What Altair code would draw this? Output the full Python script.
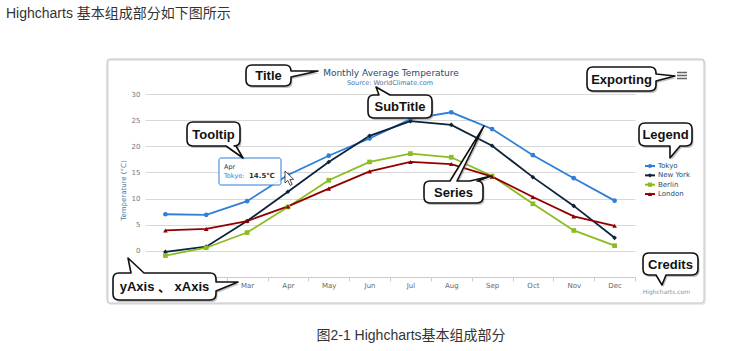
import altair as alt
import pandas as pd

# ---------------- data ----------------
months = ["Jan", "Feb", "Mar", "Apr", "May", "Jun", "Jul", "Aug", "Sep", "Oct", "Nov", "Dec"]
hidden_months = ["Jan", "Feb"]  # covered by the "yAxis 、 xAxis" callout in the reference
cities = ["Tokyo", "New York", "Berlin", "London"]
tokyo = [7.0, 6.9, 9.5, 14.5, 18.2, 21.5, 25.2, 26.5, 23.3, 18.3, 13.9, 9.6]
new_york = [-0.2, 0.8, 5.7, 11.3, 17.0, 22.0, 24.8, 24.1, 20.1, 14.1, 8.6, 2.5]
berlin = [-0.9, 0.6, 3.5, 8.4, 13.5, 17.0, 18.6, 17.9, 14.3, 9.0, 3.9, 1.0]
london = [3.9, 4.2, 5.7, 8.5, 11.9, 15.2, 17.0, 16.6, 14.2, 10.3, 6.6, 4.8]
y_ticks = [0, 5, 10, 15, 20, 25, 30]

colors = ["#2f7ed8", "#0d233a", "#8bbc21", "#910000"]
shapes = ["circle", "diamond", "square", "triangle-up"]

# ---------------- layout ----------------
W, H = 733, 351
PL, PT, PW, PH = 145, 94, 490, 183


def vx(X):
    return X - PL


def vy(Y):
    return Y - PT


def one():
    return alt.Data(values=[{}])


rows = []
for city, vals in zip(cities, [tokyo, new_york, berlin, london]):
    for i, (m, v) in enumerate(zip(months, vals)):
        rows.append({"city": city, "month": m, "idx": i, "temp": v})
df = pd.DataFrame(rows)

hidden_js = "[" + ",".join("'%s'" % m for m in hidden_months) + "]"
x_enc = alt.X(
    "month:N",
    scale=alt.Scale(type="band", domain=months, paddingInner=0, paddingOuter=0),
    bandPosition=0.5,
    axis=alt.Axis(
        title=None, labelAngle=0, labelFont="DejaVu Sans", labelFontSize=7,
        labelColor="#666666", labelPadding=0, domainColor="#C0D0E0", domainWidth=1,
        ticks=True, tickBand="extent", tickColor="#C0D0E0", tickSize=4,
        grid=False, zindex=0,
        labelExpr="indexof(%s, datum.value) >= 0 ? '' : datum.label" % hidden_js,
    ),
)
y_enc = alt.Y(
    "temp:Q",
    scale=alt.Scale(domain=[-5, 30], nice=False, zero=False),
    axis=alt.Axis(
        values=y_ticks, title="Temperature (°C)", titleColor="#4d759e",
        titleFont="DejaVu Sans", titleFontSize=7, titleFontWeight="normal",
        titleX=-22, titleY=96, titleAngle=270, titleBaseline="middle",
        titleAlign="center", labelFont="DejaVu Sans", labelFontSize=7,
        labelColor="#777777", labelPadding=5, domain=False, ticks=False,
        grid=True, gridColor="#D8D8D8", gridWidth=1, zindex=0,
    ),
)
color_enc = alt.Color("city:N", scale=alt.Scale(domain=cities, range=colors), legend=None)
shape_enc = alt.Shape("city:N", scale=alt.Scale(domain=cities, range=shapes), legend=None)

base = alt.Chart(df)
lines = base.mark_line(strokeWidth=1.8).encode(
    x=x_enc, y=y_enc, color=color_enc, order=alt.Order("idx:Q"))
points = base.mark_point(filled=True, size=22, opacity=1).encode(
    x=x_enc, y=y_enc, color=color_enc, shape=shape_enc)


# ---------------- helpers ----------------
def f(n):
    return ("%.2f" % n).rstrip("0").rstrip(".")


def callout_path(x0, y0, x1, y1, tails=None, r=5):
    tails = tails or {}
    p = ["M %s %s" % (f(x0 + r), f(y0))]
    for b0, b1, tx, ty in sorted(tails.get("top", [])):
        p += ["L %s %s" % (f(b0), f(y0)), "L %s %s" % (f(tx), f(ty)), "L %s %s" % (f(b1), f(y0))]
    p.append("L %s %s" % (f(x1 - r), f(y0)))
    p.append("Q %s %s %s %s" % (f(x1), f(y0), f(x1), f(y0 + r)))
    for b0, b1, tx, ty in sorted(tails.get("right", [])):
        p += ["L %s %s" % (f(x1), f(b0)), "L %s %s" % (f(tx), f(ty)), "L %s %s" % (f(x1), f(b1))]
    p.append("L %s %s" % (f(x1), f(y1 - r)))
    p.append("Q %s %s %s %s" % (f(x1), f(y1), f(x1 - r), f(y1)))
    for b0, b1, tx, ty in sorted(tails.get("bottom", []), reverse=True):
        p += ["L %s %s" % (f(b1), f(y1)), "L %s %s" % (f(tx), f(ty)), "L %s %s" % (f(b0), f(y1))]
    p.append("L %s %s" % (f(x0 + r), f(y1)))
    p.append("Q %s %s %s %s" % (f(x0), f(y1), f(x0), f(y1 - r)))
    for b0, b1, tx, ty in sorted(tails.get("left", []), reverse=True):
        p += ["L %s %s" % (f(x0), f(b1)), "L %s %s" % (f(tx), f(ty)), "L %s %s" % (f(x0), f(b0))]
    p.append("L %s %s" % (f(x0), f(y0 + r)))
    p.append("Q %s %s %s %s Z" % (f(x0), f(y0), f(x0 + r), f(y0)))
    return " ".join(p)


def shape_layer(path, dx=0, dy=0, **mark):
    params = dict(size=4, opacity=1)
    params.update(mark)
    return alt.Chart(one()).mark_point(shape=path, **params).encode(
        x=alt.value(vx(0) + dx), y=alt.value(vy(0) + dy))


def text_layer(text, X, Y, size, color, font="DejaVu Sans", weight="normal",
               align="center", baseline="middle"):
    return alt.Chart(one()).mark_text(
        text=text, fontSize=size, color=color, font=font, fontWeight=weight,
        align=align, baseline=baseline).encode(x=alt.value(vx(X)), y=alt.value(vy(Y)))


layers = []

# chart frame
frame = callout_path(107, 59, 704, 303, r=3)
layers.append(shape_layer(frame, 1, 1, filled=False, stroke="#e2e2e2", strokeWidth=1.5))
layers.append(shape_layer(frame, filled=False, stroke="#c4c4c4", strokeWidth=1))

layers += [lines, points]

# tooltip
layers.append(alt.Chart(one()).mark_rect(
    fill="white", fillOpacity=0.9, stroke="#2f7ed8", strokeWidth=1, cornerRadius=2
).encode(x=alt.value(vx(219)), x2=alt.value(vx(281)), y=alt.value(vy(158)), y2=alt.value(vy(185))))
layers.append(text_layer("Apr", 224, 167, 6.5, "#333333", align="left"))
layers.append(text_layer("Tokyo:", 224, 176, 6.5, "#2f7ed8", align="left"))
layers.append(text_layer("14.5℃", 249, 176, 7, "#333333", weight="bold", align="left"))
cursor = "M 285 171 L 285 183 L 287.8 180.4 L 290.2 185.4 L 292.2 184.4 L 289.9 179.5 L 293.6 179.3 Z"
layers.append(shape_layer(cursor, filled=True, fill="white", stroke="#222222", strokeWidth=0.8))

# title / subtitle
layers.append(text_layer("Monthly Average Temperature", 391, 73, 9, "#274b6d"))
layers.append(text_layer("Source: WorldClimate.com", 390, 82.5, 6.5, "#4d759e"))

# legend
for i, (city, col, shp) in enumerate(zip(cities, colors, shapes)):
    yy = 166 + i * 9.35
    layers.append(alt.Chart(one()).mark_rule(color=col, strokeWidth=2).encode(
        x=alt.value(vx(645)), x2=alt.value(vx(655)), y=alt.value(vy(yy))))
    layers.append(alt.Chart(one()).mark_point(
        shape=shp, filled=True, size=18, color=col, opacity=1).encode(
        x=alt.value(vx(650)), y=alt.value(vy(yy))))
    layers.append(text_layer(city, 658, yy, 7, "#274b6d", align="left"))

# credits
layers.append(text_layer("Highcharts.com", 690, 292, 6, "#909090", align="right"))

# exporting icon
icon = "M 677 72.5 L 687 72.5 M 677 75.5 L 687 75.5 M 677 78.5 L 687 78.5"
layers.append(shape_layer(icon, filled=False, stroke="#666666", strokeWidth=1.4))

# callouts
callouts = [
    ("Title", (246, 65, 291, 86), {"right": [(71, 77, 318, 71)]}),
    ("SubTitle", (368, 95, 432, 118), {"top": [(379, 390, 376, 87)]}),
    ("Tooltip", (187, 122, 240, 146), {"bottom": [(226, 236, 243, 158)]}),
    ("Exporting", (587, 67, 656, 91), {"right": [(74, 81, 675, 76)]}),
    ("Legend", (639, 123, 692, 146), {"bottom": [(670, 680, 670, 158)]}),
    ("Series", (424, 181, 483, 203), {"top": [(450, 457, 484, 126), (470, 478, 491, 176)]}),
    ("Credits", (643, 253, 698, 275), {"bottom": [(656, 666, 662, 285)]}),
    ("yAxis 、 xAxis", (113, 273, 216, 300),
     {"right": [(282, 291, 238, 282)], "top": [(131, 144, 128, 258)]}),
]
for label, (x0, y0, x1, y1), tails in callouts:
    path = callout_path(x0, y0, x1, y1, tails, r=6)
    layers.append(shape_layer(path, 1.5, 2, filled=True, fill="#777777", strokeWidth=0, opacity=0.45))
    layers.append(shape_layer(path, filled=True, fill="white", stroke="#111111",
                              strokeWidth=1.6, strokeJoin="round"))
    layers.append(text_layer(label, (x0 + x1) / 2, (y0 + y1) / 2 + 0.5, 13, "#111111",
                             font="Liberation Sans, Noto Sans CJK SC", weight="bold"))

# page texts
layers.append(text_layer("Highcharts 基本组成部分如下图所示", 6, 14, 14, "#333333",
                         font="Liberation Sans, Noto Sans CJK SC", align="left"))
layers.append(text_layer("图2-1 Highcharts基本组成部分", 411, 336, 14, "#333333",
                         font="Liberation Sans, Noto Sans CJK SC"))

chart = alt.layer(*layers).properties(
    width=PW, height=PH,
    padding={"left": PL, "top": PT, "right": W - PL - PW, "bottom": H - PT - PH},
    autosize=alt.AutoSizeParams(type="none"),
    background="white",
).configure_view(strokeWidth=0)

chart.save("out.html", embed_options={"renderer": "svg", "actions": False})
